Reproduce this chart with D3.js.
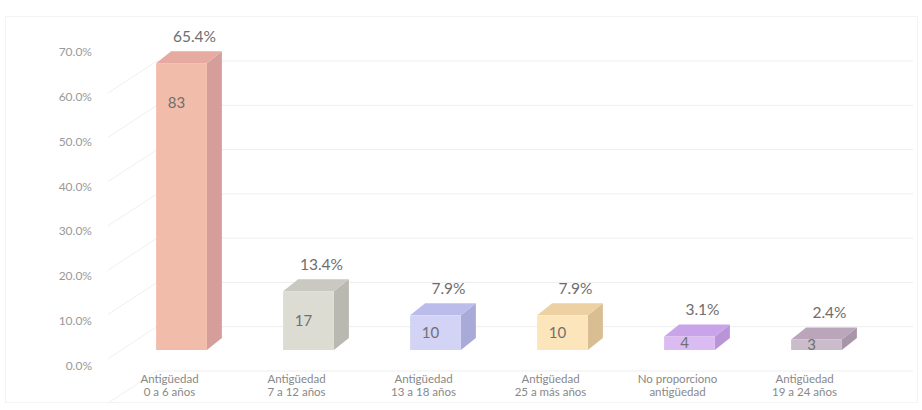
<!DOCTYPE html>
<html><head><meta charset="utf-8">
<script src="https://cdn.jsdelivr.net/npm/d3@7"></script>
<style>body{margin:0;background:#fff}svg{display:block;font-family:Lato,"Open Sans",sans-serif}</style>
</head><body><svg id="c" width="922" height="410"></svg>
<script>
const categories = [
  ["Antigüedad","0 a 6 años"],
  ["Antigüedad","7  a 12 años"],
  ["Antigüedad","13 a 18 años"],
  ["Antigüedad","25 a más años"],
  ["No proporciono","antigüedad"],
  ["Antigüedad","19 a 24 años"]
];
const percents = [65.4, 13.4, 7.9, 7.9, 3.1, 2.4];
const counts = [83, 17, 10, 10, 4, 3];
const yTicks = [0, 10, 20, 30, 40, 50, 60, 70];
const frontColors = ["#f2bcab","#dcdcd3","#d3d3f5","#fde5bb","#dbbcf2","#cbbccb"];
const sideColors  = ["#d59e9b","#b9b9b1","#aaaad9","#d9bd93","#b994d9","#a995a9"];
const topColors   = ["#e6aaa1","#c9c9c1","#bcbcea","#edd1a3","#c9a4e9","#bba5bb"];

const svg = d3.select("#c");
const dx = 15, dy = 12;
const idx = d3.range(categories.length);
const x = d3.scaleBand().domain(idx).range([118, 880]).paddingInner(0.6).paddingOuter(0.3);
const y = d3.scaleLinear().domain([0, 70]).range([350, 43]);
const yGrid = d3.scaleLinear().domain([0, 70]).range([371, 61]);
const yLab = d3.scaleLinear().domain([0, 70]).range([370, 56]);

// faint frame
svg.append("rect").attr("x",5.5).attr("y",16.5).attr("width",912).attr("height",386)
  .attr("fill","none").attr("stroke","#f4f4f4");

// back wall gridlines & side wall diagonals
const g = svg.append("g");
yTicks.forEach(t => {
  g.append("line").attr("x1",157).attr("x2",913).attr("y1",yGrid(t)).attr("y2",yGrid(t))
    .attr("stroke","#eeeeee").attr("stroke-width",1);
  g.append("line").attr("x1",108).attr("x2",157).attr("y1",yGrid(t)+32).attr("y2",yGrid(t))
    .attr("stroke","#f0f0f0").attr("stroke-width",1);
});

// axis labels
svg.append("g").selectAll("text").data(yTicks).join("text")
  .attr("x", 92).attr("y", d => yLab(d))
  .attr("text-anchor","end").attr("font-size",12).attr("fill","#999")
  .text(d => d3.format(".1f")(d) + "%");

// bars
const bars = svg.append("g").selectAll("g").data(idx).join("g");
bars.each(function(i){
  const gg = d3.select(this);
  const x0 = x(i), x1 = x(i) + x.bandwidth();
  const yt = y(percents[i]), yb = y(0);
  gg.append("path").attr("d", `M${x1},${yb} L${x1+dx},${yb-dy} L${x1+dx},${yt-dy} L${x1},${yt} Z`)
    .attr("fill", sideColors[i]);
  gg.append("path").attr("d", `M${x0},${yt} L${x0+dx},${yt-dy} L${x1+dx},${yt-dy} L${x1},${yt} Z`)
    .attr("fill", topColors[i]);
  gg.append("rect").attr("x", x0).attr("y", yt).attr("width", x.bandwidth()).attr("height", yb - yt)
    .attr("fill", frontColors[i]);
  const h = yb - yt;
  gg.append("text").attr("x", x0 + x.bandwidth()/2 - 5).attr("y", yt + Math.min(40, h/2) + 5)
    .attr("text-anchor","middle").attr("font-size",15).attr("fill","#707070")
    .text(counts[i]);
  gg.append("text").attr("x", x0 + x.bandwidth()/2 + 13).attr("y", yt - dy - 9)
    .attr("text-anchor","middle").attr("font-size",15.5).attr("fill","#6e6e6e")
    .text(d3.format(".1f")(percents[i]) + "%");
  const t = gg.append("text").attr("text-anchor","middle").attr("font-size",11.5).attr("fill","#888");
  categories[i].forEach((line, k) => {
    t.append("tspan").attr("x", x0 + x.bandwidth()/2 - 12).attr("y", 383 + k*13).text(line);
  });
});
</script></body></html>
